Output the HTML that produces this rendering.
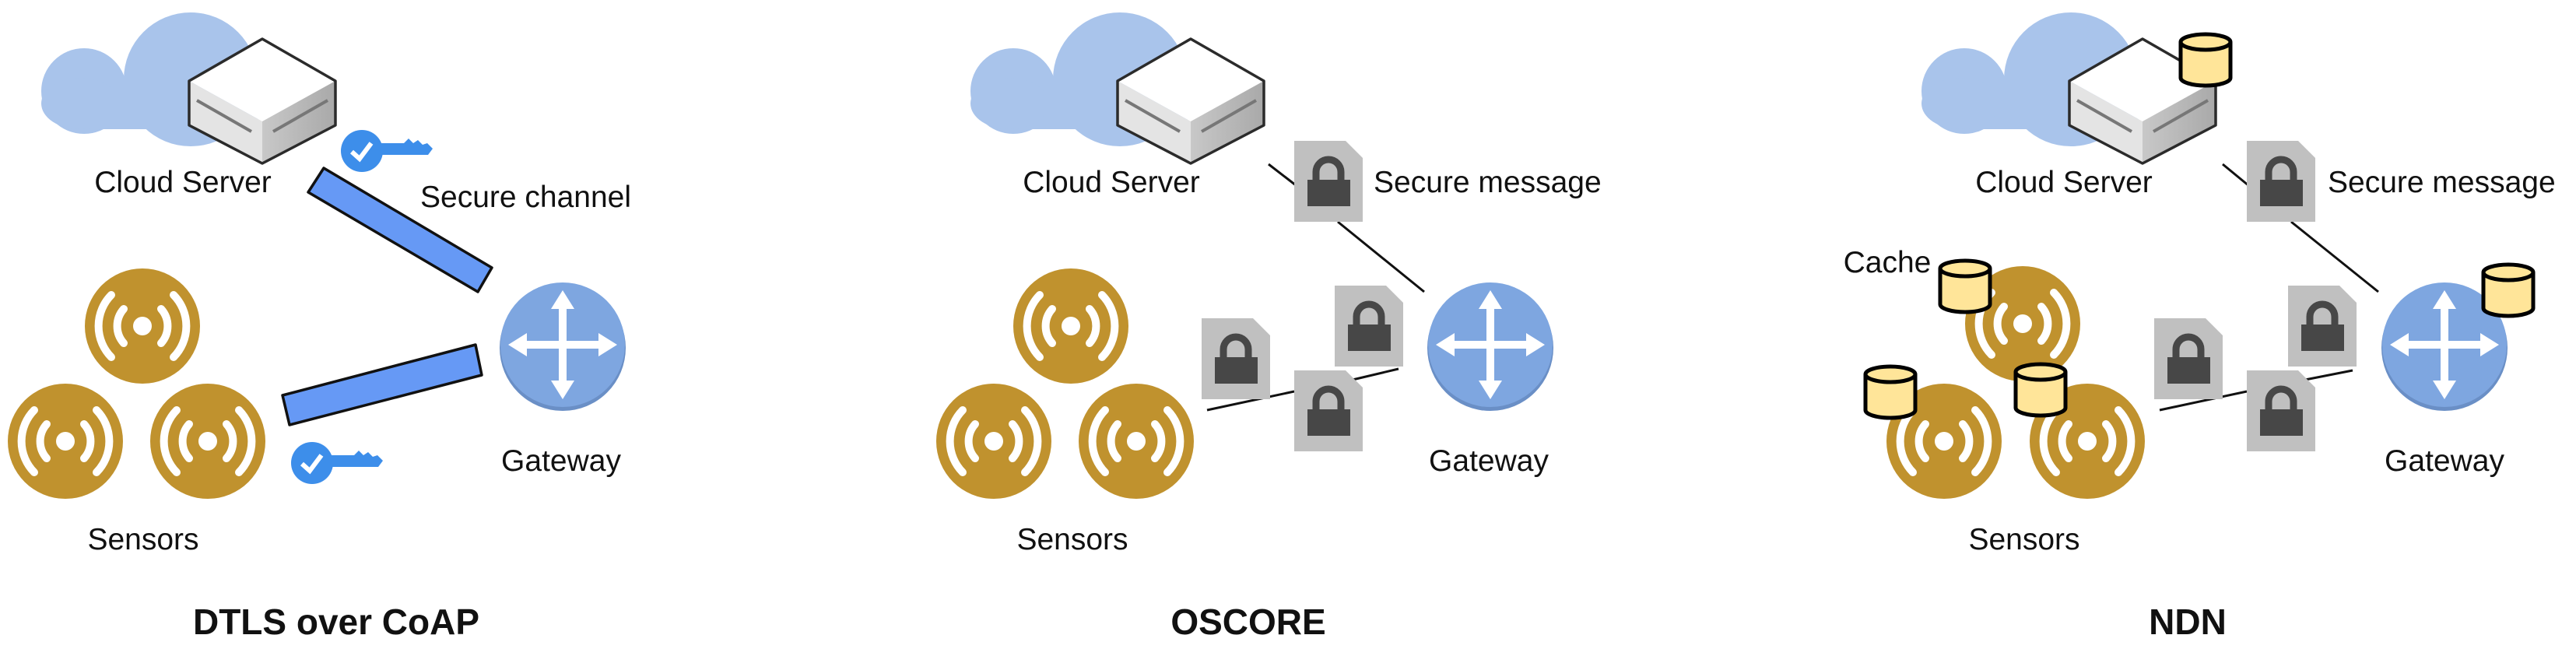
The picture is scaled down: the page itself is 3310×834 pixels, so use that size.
<!DOCTYPE html>
<html><head><meta charset="utf-8"><style>
html,body{margin:0;padding:0;background:#fff;}
svg{display:block;}
text{font-family:"Liberation Sans",Arial,sans-serif;fill:#111;}
</style></head><body>
<svg width="3310" height="834" viewBox="0 0 3310 834" xmlns="http://www.w3.org/2000/svg">
<defs>
  <g id="cloud">
    <circle cx="108" cy="117" r="55" fill="#A9C4EB"/>
    <circle cx="245" cy="102" r="86" fill="#A9C4EB"/>
    <rect x="100" y="110" width="232" height="56" fill="#A9C4EB"/>
    <rect x="53" y="100" width="100" height="66" rx="50" fill="#A9C4EB"/>
  </g>
  <g id="server">
    <linearGradient id="rg" x1="0" x2="1"><stop offset="0" stop-color="#c8c8c8"/><stop offset="1" stop-color="#a9a9a9"/></linearGradient>
    <polygon points="0,0 94,54 0,106 -94,54" fill="#ffffff"/>
    <polygon points="-94,54 0,106 0,160 -94,111" fill="#e4e4e4"/>
    <polygon points="94,54 0,106 0,160 94,111" fill="url(#rg)"/>
    <line x1="-84" y1="79" x2="-14" y2="119" stroke="#777" stroke-width="4"/>
    <line x1="14" y1="119" x2="84" y2="79" stroke="#777" stroke-width="4"/>
    <polygon points="0,0 94,54 94,111 0,160 -94,111 -94,54" fill="none" stroke="#2b2b2b" stroke-width="3.5" stroke-linejoin="round"/>
  </g>
  <g id="sensor">
    <circle r="74" fill="#C0922E"/>
    <circle r="12" fill="#fff"/>
    <g fill="none" stroke="#fff" stroke-width="10" stroke-linecap="round">
      <path d="M -24 -22 A 33 33 0 0 0 -24 22"/>
      <path d="M 24 -22 A 33 33 0 0 1 24 22"/>
      <path d="M -40 -40 A 57 57 0 0 0 -40 40"/>
      <path d="M 40 -40 A 57 57 0 0 1 40 40"/>
    </g>
  </g>
  <g id="gateway">
    <circle cx="0" cy="4" r="81" fill="#6A8FC6"/>
    <circle r="80" fill="#7EA6E0"/>
    <g fill="#fff">
      <rect x="-5" y="-52" width="10" height="104"/>
      <rect x="-52" y="-5" width="104" height="10"/>
      <polygon points="0,-70 -15,-46 15,-46"/>
      <polygon points="0,70 -15,46 15,46"/>
      <polygon points="-70,0 -46,-15 -46,15"/>
      <polygon points="70,0 46,-15 46,15"/>
    </g>
  </g>
  <g id="key">
    <circle cx="28" cy="28" r="27" fill="#3D8EEA"/>
    <path d="M 40 18 L 82 18 L 88 12 L 94 18 L 100 14 L 106 20 L 112 18 L 119 25 L 113 33 L 40 33 Z" fill="#3D8EEA"/>
    <polyline points="15,29 25,38 40,18" fill="none" stroke="#fff" stroke-width="6"/>
  </g>
  <g id="doc">
    <polygon points="0,0 66,0 88,22 88,104 0,104" fill="#C0C0C0"/>
    <path d="M 28 52 L 28 40 A 16 16 0 0 1 60 40 L 60 52" fill="none" stroke="#474747" stroke-width="9"/>
    <rect x="17" y="50" width="55" height="34" fill="#474747"/>
  </g>
  <g id="cyl">
    <path d="M 3 12 L 3 58 A 32 10 0 0 0 67 58 L 67 12" fill="#FFE599" stroke="#000" stroke-width="5"/>
    <ellipse cx="35" cy="12" rx="32" ry="10" fill="#FFE599" stroke="#000" stroke-width="5"/>
  </g>
</defs>

<!-- Panel 1 -->
<use href="#cloud"/>
<use href="#server" x="337" y="50"/>
<use href="#key" x="437" y="166"/>
<use href="#key" x="373" y="567"/>
<polygon points="416,216 632,344 614,375 396,247" fill="#6699F5" stroke="#111" stroke-width="3.5" stroke-linejoin="round"/>
<polygon points="363,508 611,443 619,482 372,546" fill="#6699F5" stroke="#111" stroke-width="3.5" stroke-linejoin="round"/>
<use href="#gateway" x="723" y="443"/>
<use href="#sensor" x="183" y="419"/>
<use href="#sensor" x="84" y="567"/>
<use href="#sensor" x="267" y="567"/>
<text x="235" y="247" font-size="39" text-anchor="middle">Cloud Server</text>
<text x="540" y="266" font-size="39">Secure channel</text>
<text x="721" y="605" font-size="39" text-anchor="middle">Gateway</text>
<text x="184" y="706" font-size="39" text-anchor="middle">Sensors</text>
<text x="432" y="815" font-size="46" font-weight="bold" text-anchor="middle">DTLS over CoAP</text>

<!-- Panel 2 -->
<use href="#cloud" x="1194"/>
<use href="#server" x="1530" y="50"/>
<line x1="1630" y1="211" x2="1665" y2="238" stroke="#111" stroke-width="3"/>
<line x1="1719" y1="285" x2="1830" y2="375" stroke="#111" stroke-width="3"/>
<line x1="1551" y1="527" x2="1663" y2="503" stroke="#111" stroke-width="3"/>
<line x1="1738" y1="488" x2="1797" y2="474" stroke="#111" stroke-width="3"/>
<use href="#doc" x="1663" y="181"/>
<use href="#doc" x="1544" y="409"/>
<use href="#doc" x="1715" y="367"/>
<use href="#doc" x="1663" y="476"/>
<use href="#gateway" x="1915" y="443"/>
<use href="#sensor" x="1376" y="419"/>
<use href="#sensor" x="1277" y="567"/>
<use href="#sensor" x="1460" y="567"/>
<text x="1428" y="247" font-size="39" text-anchor="middle">Cloud Server</text>
<text x="1765" y="247" font-size="39">Secure message</text>
<text x="1913" y="605" font-size="39" text-anchor="middle">Gateway</text>
<text x="1378" y="706" font-size="39" text-anchor="middle">Sensors</text>
<text x="1604" y="815" font-size="46" font-weight="bold" text-anchor="middle">OSCORE</text>

<!-- Panel 3 -->
<use href="#cloud" x="2416"/>
<use href="#server" x="2753" y="50"/>
<use href="#cyl" x="2799" y="42"/>
<line x1="2856" y1="211" x2="2890" y2="239" stroke="#111" stroke-width="3"/>
<line x1="2944" y1="285" x2="3056" y2="375" stroke="#111" stroke-width="3"/>
<line x1="2775" y1="527" x2="2887" y2="503" stroke="#111" stroke-width="3"/>
<line x1="2962" y1="488" x2="3023" y2="476" stroke="#111" stroke-width="3"/>
<use href="#doc" x="2887" y="181"/>
<use href="#doc" x="2768" y="409"/>
<use href="#doc" x="2940" y="367"/>
<use href="#doc" x="2887" y="476"/>
<use href="#gateway" x="3141" y="443"/>
<use href="#cyl" x="3188" y="338"/>
<use href="#sensor" x="2599" y="416"/>
<use href="#sensor" x="2498" y="567"/>
<use href="#sensor" x="2682" y="567"/>
<use href="#cyl" x="2490" y="333"/>
<use href="#cyl" x="2394" y="469"/>
<use href="#cyl" x="2587" y="466"/>
<text x="2652" y="247" font-size="39" text-anchor="middle">Cloud Server</text>
<text x="2991" y="247" font-size="39">Secure message</text>
<text x="2425" y="350" font-size="39" text-anchor="middle">Cache</text>
<text x="3141" y="605" font-size="39" text-anchor="middle">Gateway</text>
<text x="2601" y="706" font-size="39" text-anchor="middle">Sensors</text>
<text x="2811" y="815" font-size="46" font-weight="bold" text-anchor="middle">NDN</text>
</svg>
</body></html>
